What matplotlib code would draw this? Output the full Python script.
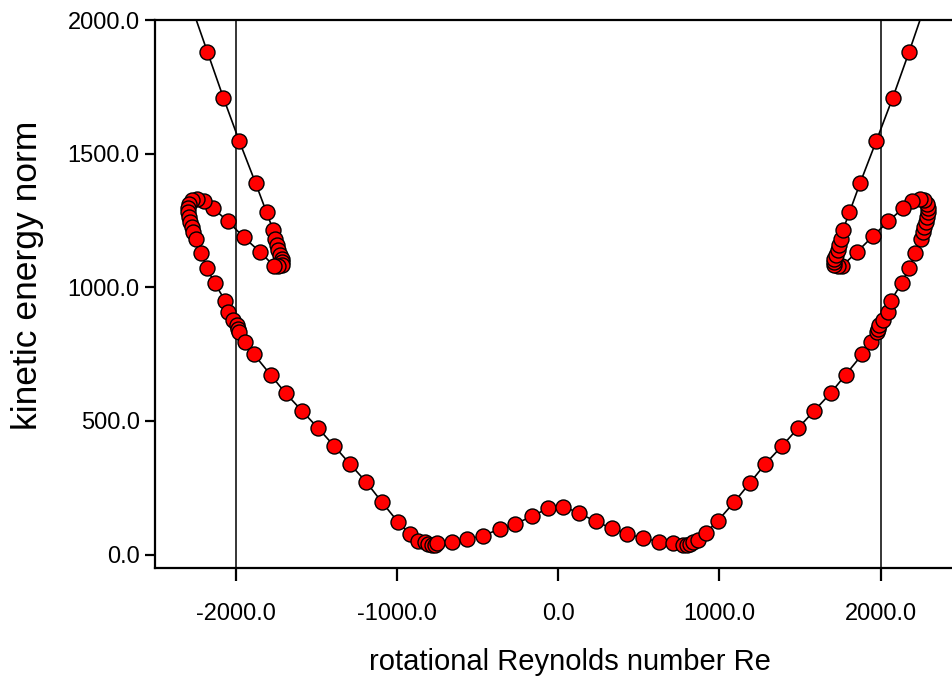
import matplotlib

matplotlib.use("Agg")
import matplotlib.pyplot as plt

# rotational Reynolds number along the traced branch (left -> bottom -> right)
re_left = [-2290, -2175, -2076, -1977, -1876, -1808, -1766, -1756, -1745, -1735,
           -1725, -1714, -1710, -1714, -1737, -1762, -1851, -1950, -2049, -2138,
           -2194, -2241, -2272, -2289, -2293, -2293, -2289, -2283, -2272, -2262,
           -2248, -2215, -2177, -2130, -2064, -2045, -2014, -1993, -1983, -1977,
           -1940, -1886, -1783, -1690, -1587, -1488, -1391, -1292, -1189, -1092,
           -991, -918, -867, -825, -805, -784, -763, -752]
ke_left = [2080, 1881, 1710, 1547, 1390, 1281, 1213, 1182, 1157, 1139,
           1120, 1107, 1095, 1082, 1078, 1080, 1134, 1188, 1248, 1295,
           1322, 1332, 1326, 1313, 1297, 1282, 1263, 1245, 1226, 1207,
           1182, 1128, 1072, 1015, 950, 907, 876, 858, 845, 833,
           795, 749, 673, 604, 537, 473, 408, 340, 271, 196,
           121, 77, 52, 46, 40, 36, 36, 44]

re_mid = [-659, -565, -463, -363, -266, -163, -64, 33, 132, 233, 332, 429, 528, 627, 715]
ke_mid = [48, 58, 71, 96, 115, 143, 173, 180, 155, 124, 99, 78, 61, 49, 44]

re_right = [777, 798, 819, 839, 870, 916, 991, 1092, 1189, 1286,
            1391, 1488, 1587, 1690, 1783, 1886, 1940, 1977, 1983, 1993,
            2014, 2045, 2064, 2130, 2177, 2215, 2248, 2262, 2272, 2283,
            2289, 2293, 2293, 2289, 2272, 2246, 2194, 2138, 2049, 1952,
            1853, 1762, 1737, 1714, 1710, 1714, 1725, 1735, 1745, 1756,
            1766, 1807, 1873, 1973, 2076, 2177, 2290]
ke_right = [36, 36, 40, 46, 56, 81, 127, 196, 268, 340,
            408, 473, 537, 604, 673, 749, 795, 833, 845, 858,
            876, 907, 950, 1015, 1072, 1128, 1182, 1207, 1226, 1245,
            1263, 1282, 1297, 1313, 1326, 1330, 1322, 1295, 1248, 1191,
            1132, 1080, 1078, 1082, 1095, 1107, 1120, 1139, 1157, 1182,
            1213, 1281, 1390, 1547, 1710, 1881, 2080]

re_marks = [-2000, 2000]
x_ticks = [-2000, -1000, 0, 1000, 2000]
y_ticks = [0, 500, 1000, 1500, 2000]

re = re_left + re_mid + re_right
ke = ke_left + ke_mid + ke_right

plt.rcParams["font.family"] = ["Liberation Sans", "DejaVu Sans"]

fig = plt.figure(figsize=(9.53, 6.91), dpi=100)
ax = fig.add_axes([0.1626, 0.178, 0.846, 0.793])

for xv in re_marks:
    ax.axvline(xv, color="black", lw=1.1, zorder=1)

ax.plot(re, ke, color="black", lw=1.2, marker="o", markersize=10.8,
        markerfacecolor="#ff0000", markeredgecolor="black", markeredgewidth=1.0, zorder=3)

ax.set_xlim(-2500, 2500)
ax.set_ylim(-50, 2000)
ax.set_xticks(x_ticks)
ax.set_yticks(y_ticks)
ax.set_xticklabels([f"{v:.1f}" for v in x_ticks])
ax.set_yticklabels([f"{v:.1f}" for v in y_ticks])

for side in ("left", "bottom", "top", "right"):
    ax.spines[side].set_linewidth(1.6)
ax.tick_params(axis="x", direction="out", length=9, width=1.6, labelsize=17, pad=16)
ax.tick_params(axis="y", direction="out", length=7, width=1.6, labelsize=17, pad=4)

ax.set_xlabel("rotational Reynolds number Re", fontsize=21)
ax.set_ylabel("kinetic energy norm", fontsize=25.5)
ax.xaxis.set_label_coords((570 - 155) / (961 - 155), -(662 - 568) / (568 - 20), transform=ax.transAxes)
ax.yaxis.set_label_coords(-(155 - 28) / (961 - 155), (568 - 275) / (568 - 20), transform=ax.transAxes)
ax.xaxis.label.set_verticalalignment("center")
ax.yaxis.label.set_verticalalignment("center")

fig.savefig("out.png", dpi=100)
